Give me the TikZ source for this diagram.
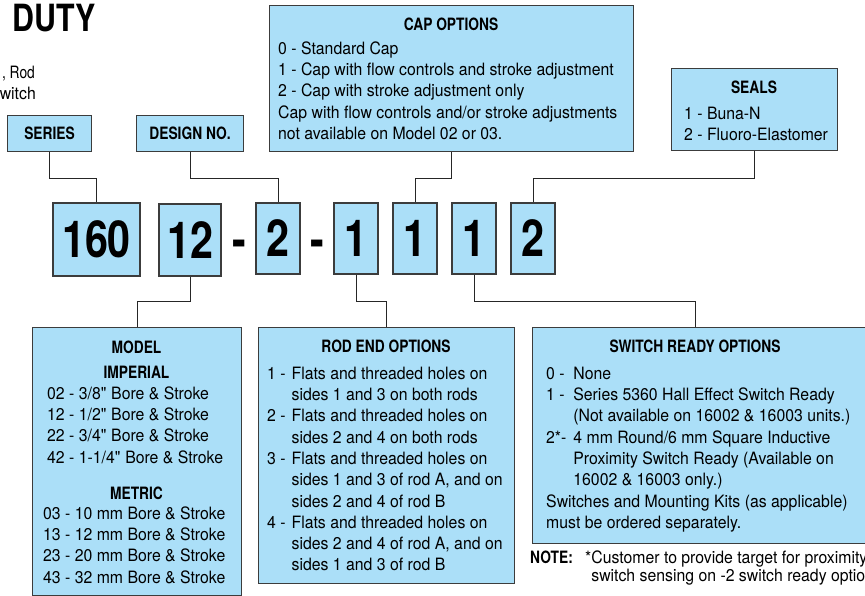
\documentclass[tikz,border=0pt]{standalone}
\usepackage{fontspec}
\setmainfont{TeX Gyre Heros}[FakeStretch=0.93]
\newfontfamily\condfont{TeX Gyre Heros}[FakeStretch=0.81]
\usepackage{tikz}

\definecolor{chartblue}{RGB}{171,223,248}
\definecolor{edgegray}{RGB}{60,60,60}

\tikzset{
  infobox/.style={draw=edgegray, line width=1.1pt, fill=chartblue, anchor=north west, inner sep=0pt},
  labelbox/.style={infobox, font=\condfont\bfseries\fontsize{17}{21}\selectfont},
  codebox/.style={draw=edgegray, line width=1.1pt, fill=chartblue, inner sep=0pt,
    font=\condfont\bfseries\fontsize{51}{51}\selectfont},
  hyph/.style={anchor=base, inner sep=0pt, font=\condfont\bfseries\fontsize{51}{51}\selectfont},
  head/.style={anchor=base, inner sep=0pt, font=\condfont\bfseries\fontsize{17}{21}\selectfont},
  body/.style={anchor=north west, inner sep=0pt, font=\fontsize{17}{21.3}\selectfont},
  link/.style={draw=black!85, line width=0.9pt},
}

\begin{document}
\begin{tikzpicture}[x=1pt, y=-1pt]
\useasboundingbox (0,0) rectangle (865,596);

% heading, left over from the page
\node[anchor=base west, inner sep=0pt, font=\condfont\bfseries\fontsize{37.5}{40}\selectfont] (title) at (12,32) {DUTY};
\node[anchor=base east, inner sep=0pt, font=\condfont\fontsize{17}{21}\selectfont] (subA) at (35,79) {, Rod};
\node[anchor=base east, inner sep=0pt, font=\fontsize{17}{21}\selectfont] (subB) at (36,100) {witch};

% upper boxes
\node[labelbox, minimum width=84pt, minimum height=36pt] (series) at (7,115) {SERIES};
\node[labelbox, minimum width=107pt, minimum height=36pt] (design) at (136,115) {DESIGN NO.};
\node[infobox, minimum width=364pt, minimum height=146pt] (cap) at (269,5) {};
\node[infobox, minimum width=166pt, minimum height=82pt] (seals) at (671,68) {};

\node[head] (capT) at (451,31) {CAP OPTIONS};
\node[body] (capB) at (278,39.1) {\begin{tabular}{@{}l@{}}
0 - Standard Cap\\
1 - Cap with flow controls and stroke adjustment\\
2 - Cap with stroke adjustment only\\
Cap with flow controls and/or stroke adjustments\\
not available on Model 02 or 03.
\end{tabular}};

\node[head] (sealsT) at (754,94) {SEALS};
\node[body] (sealsB) at (684,104.1) {\begin{tabular}{@{}l@{}}
1 - Buna-N\\
2 - Fluoro-Elastomer
\end{tabular}};

% the order code
\node[codebox, minimum width=87pt, minimum height=73pt] (vSeries) at (96.5,239.5) {160};
\node[codebox, minimum width=62pt, minimum height=72pt] (vModel) at (190,240) {12};
\node[hyph] (hyphA) at (239,258) {-};
\node[codebox, minimum width=44pt, minimum height=71pt] (vDesign) at (278,238.5) {2};
\node[hyph] (hyphB) at (317,258) {-};
\node[codebox, minimum width=44pt, minimum height=71pt] (vRod) at (356,238.5) {1};
\node[codebox, minimum width=44pt, minimum height=71pt] (vCap) at (415,238.5) {1};
\node[codebox, minimum width=44pt, minimum height=71pt] (vSwitch) at (474,238.5) {1};
\node[codebox, minimum width=44pt, minimum height=71pt] (vSeals) at (533,238.5) {2};

% lower boxes
\node[infobox, minimum width=209pt, minimum height=268pt] (model) at (32,327) {};
\node[infobox, minimum width=256pt, minimum height=256pt] (rodend) at (258,327) {};
\node[infobox, minimum width=348pt, minimum height=216pt] (switch) at (532,327) {};

\node[head] (modelT) at (136.5,353) {MODEL};
\node[head] (impT) at (136.5,378) {IMPERIAL};
\node[body] (impB) at (47,384.1) {\begin{tabular}{@{}l@{}}
02 - 3/8\textquotedbl{} Bore \& Stroke\\
12 - 1/2\textquotedbl{} Bore \& Stroke\\
22 - 3/4\textquotedbl{} Bore \& Stroke\\
42 - 1-1/4\textquotedbl{} Bore \& Stroke
\end{tabular}};
\node[head] (metT) at (136.5,499) {METRIC};
\node[body] (metB) at (43,504.1) {\begin{tabular}{@{}l@{}}
03 - 10 mm Bore \& Stroke\\
13 - 12 mm Bore \& Stroke\\
23 - 20 mm Bore \& Stroke\\
43 - 32 mm Bore \& Stroke
\end{tabular}};

\node[head] (rodT) at (386,352) {ROD END OPTIONS};
\node[body] (rodB) at (267,364.1) {\begin{tabular}{@{}l@{\hspace{6pt}}l@{}}
1 - & Flats and threaded holes on\\
    & sides 1 and 3 on both rods\\
2 - & Flats and threaded holes on\\
    & sides 2 and 4 on both rods\\
3 - & Flats and threaded holes on\\
    & sides 1 and 3 of rod A, and on\\
    & sides 2 and 4 of rod B\\
4 - & Flats and threaded holes on\\
    & sides 2 and 4 of rod A, and on\\
    & sides 1 and 3 of rod B
\end{tabular}};

\node[head] (switchT) at (695,352) {SWITCH READY OPTIONS};
\node[body] (switchB) at (546,364.1) {\begin{tabular}{@{}l@{\hspace{7pt}}l@{}}
0 - & None\\
1 - & Series 5360 Hall Effect Switch Ready\\
    & (Not available on 16002 \& 16003 units.)\\
2*- & 4 mm Round/6 mm Square Inductive\\
    & Proximity Switch Ready (Available on\\
    & 16002 \& 16003 only.)\\
\multicolumn{2}{@{}l@{}}{Switches and Mounting Kits (as applicable)}\\
\multicolumn{2}{@{}l@{}}{must be ordered separately.}
\end{tabular}};

% note under the switch box
\node[anchor=base west, inner sep=0pt, font=\condfont\bfseries\fontsize{17}{18}\selectfont] (noteT) at (530,563) {NOTE:};
\node[anchor=north west, inner sep=0pt, font=\fontsize{17}{18}\selectfont] (noteB) at (585,550.4) {\begin{tabular}{@{}l@{}}
*Customer to provide target for proximity\\
\hphantom{*}switch sensing on -2 switch ready option.
\end{tabular}};

% connectors
\coordinate (upper) at (0,178);
\coordinate (lower) at (0,301);
\coordinate (swIn) at (695,327);

\draw[link] (series.south) -- (series.south |- upper) -| (vSeries.north);
\draw[link] (design.south) -- (design.south |- upper) -| (vDesign.north);
\draw[link] (cap.south) -- (cap.south |- upper) -| (vCap.north);
\draw[link] (seals.south) -- (seals.south |- upper) -| (vSeals.north);
\draw[link] (vModel.south) -- (vModel.south |- lower) -| (model.north);
\draw[link] (vRod.south) -- (vRod.south |- lower) -| (rodend.north);
\draw[link] (vSwitch.south) -- (vSwitch.south |- lower) -| (swIn);
\end{tikzpicture}
\end{document}
